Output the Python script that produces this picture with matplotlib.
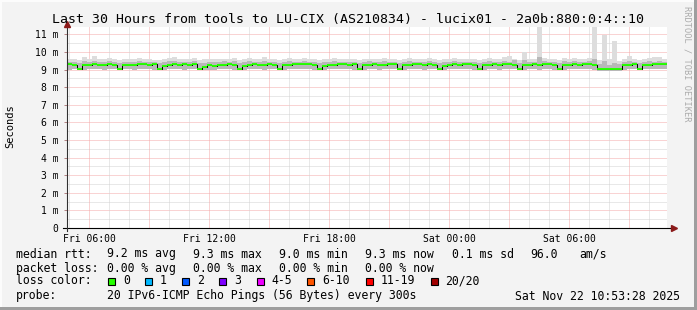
from datetime import datetime, timedelta
import numpy as np
import matplotlib
matplotlib.use("Agg")
import matplotlib.pyplot as plt
import matplotlib.dates as mdates
from matplotlib.patches import Rectangle

W, H = 697, 310
MONO = "DejaVu Sans Mono"

title = "Last 30 Hours from tools to LU-CIX (AS210834) - lucix01 - 2a0b:880:0:4::10"
start = datetime(2025, 11, 21, 4, 53, 28)
step_min = 15

# median rtt in ms, one value per 15 minutes
median = [9.30, 9.28, 9.05, 9.24, 9.28, 9.30, 9.27, 9.29, 9.31, 9.28,
          9.06, 9.25, 9.29, 9.27, 9.30, 9.31, 9.28, 9.30, 9.05, 9.22,
          9.27, 9.30, 9.29, 9.31, 9.28, 9.30, 9.06, 9.16, 9.24, 9.18,
          9.26, 9.29, 9.30, 9.28, 9.05, 9.23, 9.28, 9.30, 9.27, 9.29,
          9.31, 9.29, 9.06, 9.24, 9.28, 9.30, 9.31, 9.33, 9.30, 9.28,
          9.05, 9.22, 9.27, 9.29, 9.30, 9.31, 9.29, 9.30, 9.06, 9.24,
          9.28, 9.30, 9.27, 9.29, 9.31, 9.30, 9.05, 9.25, 9.29, 9.31,
          9.30, 9.28, 9.30, 9.27, 9.06, 9.23, 9.28, 9.30, 9.29, 9.31,
          9.30, 9.28, 9.05, 9.24, 9.29, 9.30, 9.28, 9.31, 9.30, 9.29,
          9.06, 9.25, 9.28, 9.30, 9.29, 9.31, 9.30, 9.28, 9.05, 9.24,
          9.28, 9.30, 9.29, 9.31, 9.30, 9.28, 9.04, 9.02, 9.03, 9.02,
          9.04, 9.25, 9.28, 9.30, 9.05, 9.26, 9.29, 9.31, 9.30, 9.32]

# smoke: outer ping range and upper edge of the dense part
smoke_hi = [9.62, 9.58, 9.55, 9.70, 9.60, 9.75, 9.62, 9.58, 9.66, 9.60,
            9.52, 9.63, 9.60, 9.58, 9.68, 9.62, 9.60, 9.57, 9.55, 9.60,
            9.64, 9.70, 9.62, 9.58, 9.60, 9.66, 9.55, 9.58, 9.62, 9.60,
            9.58, 9.63, 9.60, 9.66, 9.52, 9.62, 9.68, 9.60, 9.58, 9.72,
            9.62, 9.60, 9.55, 9.60, 9.64, 9.60, 9.62, 9.68, 9.60, 9.58,
            9.54, 9.60, 9.62, 9.66, 9.60, 9.58, 9.62, 9.60, 9.55, 9.60,
            9.63, 9.60, 9.58, 9.65, 9.60, 9.62, 9.52, 9.60, 9.64, 9.60,
            9.62, 9.58, 9.66, 9.60, 9.55, 9.62, 9.60, 9.64, 9.60, 9.58,
            9.62, 9.60, 9.55, 9.62, 9.66, 9.60, 9.58, 9.70, 9.75, 9.62,
            9.55, 10.00, 9.62, 9.60, 11.45, 9.66, 9.60, 9.62, 9.55, 9.65,
            9.60, 9.68, 9.62, 9.60, 9.64, 11.40, 9.55, 10.95, 9.60, 10.60,
            9.50, 9.62, 9.75, 9.60, 9.55, 9.62, 9.66, 9.72, 9.70, 9.62]

smoke_lo = [9.00, 9.02, 8.96, 9.00, 9.03, 9.01, 9.02, 9.00, 9.03, 9.01,
            8.96, 9.01, 9.02, 9.00, 9.03, 9.02, 9.01, 9.00, 8.96, 8.99,
            9.02, 9.01, 9.03, 9.00, 9.02, 9.01, 8.95, 8.98, 9.00, 8.97,
            9.01, 9.03, 9.02, 9.00, 8.96, 9.00, 9.02, 9.03, 9.01, 9.00,
            9.02, 9.01, 8.96, 9.00, 9.02, 9.03, 9.01, 9.04, 9.02, 9.00,
            8.95, 8.99, 9.01, 9.02, 9.03, 9.01, 9.02, 9.00, 8.96, 9.00,
            9.02, 9.03, 9.00, 9.01, 9.03, 9.02, 8.95, 9.00, 9.02, 9.03,
            9.01, 9.00, 9.02, 9.01, 8.96, 8.99, 9.02, 9.03, 9.01, 9.02,
            9.03, 9.00, 8.95, 9.00, 9.02, 9.01, 9.00, 9.03, 9.02, 9.01,
            8.96, 9.00, 9.02, 9.01, 9.00, 9.03, 9.02, 9.00, 8.95, 9.00,
            9.01, 9.03, 9.02, 9.01, 9.02, 9.00, 8.94, 8.92, 8.93, 8.92,
            8.94, 9.00, 9.02, 9.03, 8.95, 9.01, 9.02, 9.03, 9.01, 9.03]

core_hi = [9.46, 9.44, 9.36, 9.48, 9.45, 9.50, 9.46, 9.44, 9.48, 9.45,
           9.35, 9.46, 9.45, 9.44, 9.49, 9.46, 9.45, 9.43, 9.36, 9.44,
           9.47, 9.50, 9.46, 9.44, 9.45, 9.48, 9.36, 9.40, 9.45, 9.42,
           9.44, 9.47, 9.45, 9.48, 9.35, 9.46, 9.49, 9.45, 9.44, 9.50,
           9.46, 9.45, 9.36, 9.44, 9.47, 9.45, 9.46, 9.49, 9.45, 9.44,
           9.35, 9.44, 9.46, 9.48, 9.45, 9.44, 9.46, 9.45, 9.36, 9.44,
           9.47, 9.45, 9.44, 9.48, 9.45, 9.46, 9.35, 9.45, 9.47, 9.45,
           9.46, 9.44, 9.48, 9.45, 9.36, 9.46, 9.45, 9.47, 9.45, 9.44,
           9.46, 9.45, 9.35, 9.46, 9.48, 9.45, 9.44, 9.50, 9.46, 9.52,
           9.36, 9.55, 9.46, 9.45, 9.70, 9.48, 9.45, 9.46, 9.35, 9.47,
           9.45, 9.49, 9.46, 9.45, 9.47, 9.60, 9.30, 9.50, 9.28, 9.40,
           9.30, 9.46, 9.50, 9.45, 9.36, 9.46, 9.48, 9.45, 9.50, 9.46]

stats_rtt = [("9.2 ms avg", 107), ("9.3 ms max", 193), ("9.0 ms min", 279),
             ("9.3 ms now", 365), ("0.1 ms sd", 451.7), ("96.0", 530), ("am/s", 579)]
stats_loss = [("0.00 % avg", 107), ("0.00 % max", 193), ("0.00 % min", 279),
              ("0.00 % now", 365)]
loss_labels = ["0", "1", "2", "3", "4-5", "6-10", "11-19", "20/20"]
loss_colors = ["#26ff00", "#00b8ff", "#0059ff", "#7e00ff", "#ee00ff",
               "#ff5500", "#ff0000", "#a10000"]
loss_box_x = [108.3, 145, 182.3, 219.3, 256.7, 307.3, 366, 430.7]
probe_text = "20 IPv6-ICMP Echo Pings (56 Bytes) every 300s"
date_text = "Sat Nov 22 10:53:28 2025"


def fx(x):
    return x / W


def fy(y):
    return 1 - y / H


plt.rcParams["lines.scale_dashes"] = False

fig = plt.figure(figsize=(W / 100, H / 100), dpi=100, facecolor="#f3f3f3")
ax = fig.add_axes([fx(67), fy(228), 600 / W, (228 - 26.5) / H])
ax.set_facecolor("white")
for s in ax.spines.values():
    s.set_visible(False)

n = len(median)
t = [start + timedelta(minutes=step_min * i) for i in range(n + 1)]
x = mdates.date2num(t)
end = mdates.date2num(start + timedelta(hours=30))

med = np.array(median)
lo = np.append(smoke_lo, smoke_lo[-1])
hi = np.append(smoke_hi, smoke_hi[-1])
core = np.append(core_hi, core_hi[-1])

# grid, 1px dots (dash lengths in points)
dot = (0, (0.72, 0.72))
MAJ, MIN = "#f4a8a8", "#d2d2d2"
for v in np.arange(0.5, 11.5, 0.5):
    major = float(v).is_integer()
    ax.axhline(v, color=MAJ if major else MIN, lw=0.72, ls=dot, zorder=1)
first = datetime(2025, 11, 21, 5, 0)
xt, xl = [], []
for h in range(31):
    tt = first + timedelta(hours=h)
    xv = mdates.date2num(tt)
    if xv >= end:
        break
    ax.axvline(xv, color=MAJ if tt.hour % 3 == 0 else MIN,
               lw=0.72, ls=dot, zorder=1)
    if tt.hour % 6 == 0:
        xt.append(xv)
        xl.append(tt.strftime("%a %H:%M"))

# smoke
ax.fill_between(x, lo, hi, step="post", color="#dddddd", lw=0, zorder=2)
ax.fill_between(x, lo, core, step="post", color="#b8b8b8", lw=0, zorder=3)

# median line
ax.step(x, np.append(med, med[-1]), where="post", color="black", lw=0.72, zorder=4)
ax.hlines(med, x[:-1], x[1:], color=loss_colors[0], lw=1.4, zorder=5)

ax.set_xlim(x[0], end)
ax.set_ylim(0, 11.45)
ax.set_xticks(xt)
ax.set_xticklabels(xl, fontfamily=MONO, fontsize=7)
ax.set_yticks(range(12))
ax.set_yticklabels(["0"] + ["%d m" % i for i in range(1, 12)],
                   fontfamily=MONO, fontsize=7)
ax.tick_params(axis="x", length=0, pad=4)
ax.tick_params(axis="y", length=2, width=0.7, color="#b08080", pad=4)

# axes with arrows
ax.plot([-4 / 600, 604 / 600], [0, 0], transform=ax.transAxes, color="black",
        lw=0.8, clip_on=False, zorder=6)
ax.plot([0, 0], [-3 / 201.5, 1.01], transform=ax.transAxes, color="#303030",
        lw=0.8, clip_on=False, zorder=6)
ax.plot([607 / 600], [0], transform=ax.transAxes, marker=">", ms=4.5,
        color="#8b1a1a", clip_on=False, zorder=7)
ax.plot([0], [1 + 3 / 201.5], transform=ax.transAxes, marker="^", ms=4.5,
        color="#8b1a1a", clip_on=False, zorder=7)

# texts
fig.text(fx(347.5), fy(19.5), title, ha="center", va="center",
         fontfamily=MONO, fontsize=9.5)
fig.text(fx(10), fy(126), "Seconds", rotation=90, ha="center", va="center",
         fontfamily=MONO, fontsize=7.5)
fig.text(fx(686.5), fy(64), "RRDTOOL / TOBI OETIKER", rotation=270,
         ha="center", va="center", fontfamily=MONO, fontsize=6.2, color="#ababab")

lf = dict(fontfamily=MONO, fontsize=8.3, va="center", ha="left")
fig.text(fx(16), fy(254), "median rtt:", **lf)
for s, px in stats_rtt:
    fig.text(fx(px), fy(254), s, **lf)
fig.text(fx(16), fy(268.3), "packet loss:", **lf)
for s, px in stats_loss:
    fig.text(fx(px), fy(268.3), s, **lf)
fig.text(fx(16), fy(281), "loss color:", **lf)
for lab, col, bx in zip(loss_labels, loss_colors, loss_box_x):
    fig.add_artist(Rectangle((fx(bx), fy(284.5)), 7 / W, 7 / H, transform=fig.transFigure,
                             facecolor=col, edgecolor="black", lw=0.8))
    fig.text(fx(bx + 14.5), fy(281), lab, **lf)
fig.text(fx(16), fy(296), "probe:", **lf)
fig.text(fx(107), fy(296), probe_text, **lf)
fig.text(fx(680), fy(296), date_text, fontfamily=MONO, fontsize=8.3,
         va="center", ha="right")

# frame
fig.add_artist(Rectangle((0, 0), 2 / W, 1, transform=fig.transFigure,
                         facecolor="#fcfcfc", lw=0))
fig.add_artist(Rectangle((0, fy(2)), 1, 2 / H, transform=fig.transFigure,
                         facecolor="#fcfcfc", lw=0))
fig.add_artist(Rectangle((fx(694), 0), 3 / W, 1, transform=fig.transFigure,
                         facecolor="#9e9e9e", lw=0))
fig.add_artist(Rectangle((0, 0), 1, 3 / H, transform=fig.transFigure,
                         facecolor="#9e9e9e", lw=0))

fig.savefig("out.png", dpi=100, facecolor=fig.get_facecolor())
